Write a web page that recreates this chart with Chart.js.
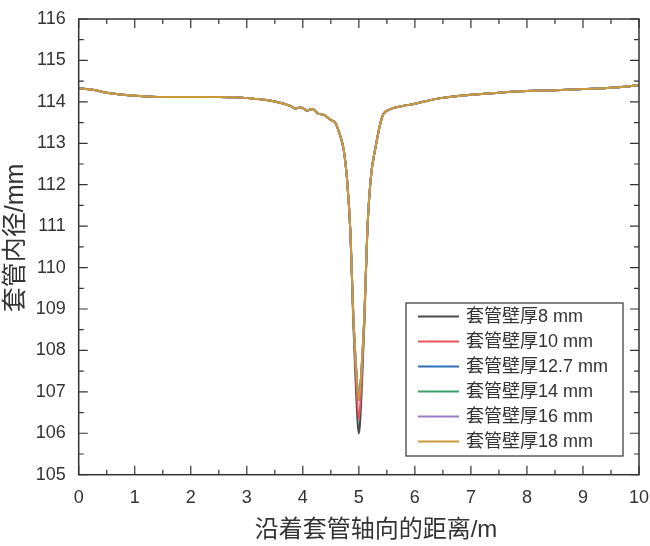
<!DOCTYPE html>
<html>
<head>
<meta charset="utf-8">
<script src="https://cdn.jsdelivr.net/npm/chart.js@4/dist/chart.umd.min.js"></script>
<style>
    html, body { margin: 0; padding: 0; background: #fff; }
    #wrap { width: 650px; height: 546px; }
</style>
</head>
<body>
<div id="wrap"><canvas id="Chart"></canvas></div>
<script>
//Distance along the casing (m), left flank, dip and right flank.
const leftX = [0, 0.25, 0.5, 0.75, 1, 1.5, 2, 2.5, 2.75, 3, 3.25, 3.5, 3.78, 3.87, 3.96, 4.08, 4.17, 4.28, 4.37, 4.49, 4.58, 4.65, 4.73, 4.79, 4.85];
const dipX = [4.9, 4.95, 5.0, 5.05, 5.1];
const rightX = [5.15, 5.21, 5.3, 5.42, 5.54, 5.75, 5.98, 6.46, 7, 7.5, 8, 8.5, 9, 9.5, 10];

//Inner diameter (mm), shared by all wall thicknesses outside the dip.
const leftDiameter = [114.33, 114.29, 114.22, 114.18, 114.15, 114.12, 114.12, 114.12, 114.11, 114.09, 114.06, 114.01, 113.90, 113.84, 113.87, 113.79, 113.83, 113.71, 113.69, 113.57, 113.49, 113.25, 112.84, 112.12, 110.83];
const rightDiameter = [110.83, 112.12, 112.92, 113.65, 113.81, 113.89, 113.95, 114.09, 114.17, 114.22, 114.26, 114.28, 114.31, 114.34, 114.40];

//Inner diameter inside the dip, one list per wall thickness.
const dip8 = [108.7, 107.0, 106.0, 107.0, 108.7];
const dip10 = [108.8, 107.3, 106.35, 107.3, 108.8];
const dip127 = [108.9, 107.6, 106.8, 107.6, 108.9];
const dip14 = [108.9, 107.6, 106.8, 107.6, 108.9];
const dip16 = [108.9, 107.6, 106.8, 107.6, 108.9];
const dip18 = [108.9, 107.6, 106.8, 107.6, 108.9];

const seriesLabels = ['套管壁厚8 mm', '套管壁厚10 mm', '套管壁厚12.7 mm', '套管壁厚14 mm', '套管壁厚16 mm', '套管壁厚18 mm'];
const seriesDips = [dip8, dip10, dip127, dip14, dip16, dip18];
const seriesColors = ['#4a4a4a', '#e8545a', '#2f6fb8', '#3aa06a', '#9b7bc6', '#cc9a3a'];

const xTicks = [0, 1, 2, 3, 4, 5, 6, 7, 8, 9, 10];
const yTicks = [105, 106, 107, 108, 109, 110, 111, 112, 113, 114, 115, 116];

const xTitle = '沿着套管轴向的距离/m';
const yTitle = '套管内径/mm';

const FONT = '"Liberation Sans", Arial, "Noto Sans CJK SC", sans-serif';
const INK = '#333333';

/**
 * Builds the {x, y} points of one series.
 */
function buildPoints(dip) {
    let xs = leftX.concat(dipX, rightX);
    let ys = leftDiameter.concat(dip, rightDiameter);
    return xs.map(function (x, i) {
        return {x: x, y: ys[i]};
    });
}

//Draws the frame, the inward ticks, the axis titles and the boxed legend.
const framePlugin = {
    id: 'frame',
    afterDraw: function (chart) {
        let ctx = chart.ctx;
        let area = chart.chartArea;
        let xs = chart.scales.x;
        let ys = chart.scales.y;

        ctx.save();
        ctx.strokeStyle = INK;
        ctx.lineWidth = 1.5;
        ctx.strokeRect(area.left, area.top, area.right - area.left, area.bottom - area.top);

        ctx.lineWidth = 1.2;
        ctx.beginPath();
        for (let v = 0; v <= 10; v += 0.5) {
            let len = (v % 1 === 0) ? 9 : 5;
            let px = xs.getPixelForValue(v);
            ctx.moveTo(px, area.bottom);
            ctx.lineTo(px, area.bottom - len);
            ctx.moveTo(px, area.top);
            ctx.lineTo(px, area.top + len);
        }
        for (let v = 105; v <= 116; v += 0.5) {
            let len = (v % 1 === 0) ? 9 : 5;
            let py = ys.getPixelForValue(v);
            ctx.moveTo(area.left, py);
            ctx.lineTo(area.left + len, py);
            ctx.moveTo(area.right, py);
            ctx.lineTo(area.right - len, py);
        }
        ctx.stroke();

        //Axis titles
        ctx.fillStyle = INK;
        ctx.textAlign = 'center';
        ctx.textBaseline = 'middle';
        ctx.font = '24px ' + FONT;
        ctx.fillText(xTitle, 376, 530);
        ctx.save();
        ctx.translate(16, 238);
        ctx.rotate(-Math.PI / 2);
        ctx.font = '25px ' + FONT;
        ctx.fillText(yTitle, 0, 0);
        ctx.restore();

        //Legend
        let boxLeft = 406, boxTop = 303, boxWidth = 217, boxHeight = 153;
        ctx.fillStyle = '#ffffff';
        ctx.fillRect(boxLeft, boxTop, boxWidth, boxHeight);
        ctx.lineWidth = 1.2;
        ctx.strokeRect(boxLeft, boxTop, boxWidth, boxHeight);

        ctx.font = '18px ' + FONT;
        ctx.textBaseline = 'middle';
        ctx.textAlign = 'left';
        chart.data.datasets.forEach(function (ds, i) {
            let rowY = boxTop + 13.5 + i * 25;
            ctx.strokeStyle = ds.borderColor;
            ctx.lineWidth = 2;
            ctx.beginPath();
            ctx.moveTo(boxLeft + 12, rowY);
            ctx.lineTo(boxLeft + 53, rowY);
            ctx.stroke();
            ctx.fillStyle = INK;
            ctx.fillText(ds.label, boxLeft + 60, rowY + 1);
        });
        ctx.restore();
    }
};

const config = {
    type: 'line',
    data: {
        datasets: seriesLabels.map(function (label, i) {
            return {
                label: label,
                data: buildPoints(seriesDips[i]),
                borderColor: seriesColors[i],
                backgroundColor: seriesColors[i],
                borderWidth: 2,
                pointRadius: 0,
                fill: false,
                order: seriesLabels.length - i, //thinnest wall drawn underneath
                cubicInterpolationMode: 'monotone'
            };
        })
    },
    options: {
        responsive: true,
        maintainAspectRatio: false,
        animation: false,
        layout: {padding: {left: 0, top: 19, right: 11, bottom: 0}},
        plugins: {
            legend: {display: false},
            tooltip: {enabled: false}
        },
        scales: {
            x: {
                type: 'linear',
                min: 0,
                max: 10,
                afterFit: function (scale) {
                    scale.height = 71.3;
                    scale.paddingLeft = 0;
                    scale.paddingRight = 0;
                },
                afterBuildTicks: function (scale) {
                    scale.ticks = xTicks.map(function (v) { return {value: v}; });
                },
                grid: {display: false, drawTicks: false},
                border: {display: false},
                ticks: {
                    padding: 13,
                    color: INK,
                    font: {family: FONT, size: 18},
                    maxRotation: 0
                }
            },
            y: {
                type: 'linear',
                min: 105,
                max: 116,
                afterFit: function (scale) {
                    scale.width = 78.7;
                    scale.paddingTop = 0;
                    scale.paddingBottom = 0;
                },
                afterBuildTicks: function (scale) {
                    scale.ticks = yTicks.map(function (v) { return {value: v}; });
                },
                grid: {display: false, drawTicks: false},
                border: {display: false},
                ticks: {
                    padding: 13,
                    color: INK,
                    font: {family: FONT, size: 18}
                }
            }
        }
    },
    plugins: [framePlugin]
};

window.onload = function () {
    window.myLine = new Chart(document.getElementById('Chart').getContext('2d'), config);
};
</script>
</body>
</html>
